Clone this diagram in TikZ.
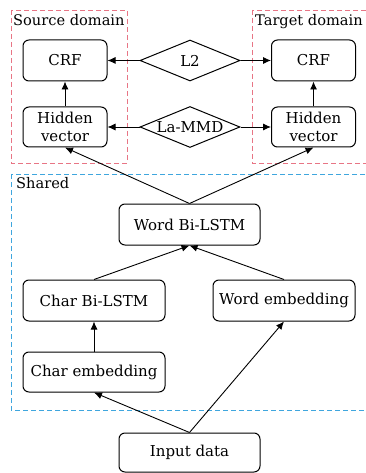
\documentclass[tikz,border=0pt]{standalone}
\usepackage{fontspec}
\setmainfont{DejaVu Serif}
\usetikzlibrary{shapes.geometric,arrows.meta}
\definecolor{dred}{HTML}{E87585}
\definecolor{dblue}{HTML}{3FA6DE}
\begin{document}
\begin{tikzpicture}[x=1pt,y=-1pt,
  box/.style={draw,rounded corners=6pt,line width=1pt,align=center,inner sep=0pt,font=\fontsize{15}{17.5}\selectfont},
  dia/.style={draw,diamond,inner sep=0pt,line width=1pt,minimum width=100pt,minimum height=41pt,aspect=2.44,font=\fontsize{15}{17.5}\selectfont},
  arr/.style={-{Latex[length=8pt,width=7pt]},line width=0.9pt},
  region/.style={dashed,dash pattern=on 5pt off 3pt,line width=0.8pt},
  lbl/.style={anchor=north west,inner sep=0pt,font=\fontsize{14.6}{17}\selectfont}]
\useasboundingbox (0,0) rectangle (365,473);
% regions
\draw[region,dred] (11,10) rectangle (127,163);
\draw[region,dred] (252,10) rectangle (372,163);
\draw[region,dblue] (11,174) rectangle (372,410);
\node[lbl] (srclbl) at (13,14) {Source domain};
\node[lbl] (tgtlbl) at (255,14) {Target domain};
\node[lbl] (shlbl) at (16,177) {Shared};
% nodes
\node[box,minimum width=84pt,minimum height=41pt] (crfL) at (65,60.5) {CRF};
\node[box,minimum width=84pt,minimum height=40pt] (hidL) at (65,127) {Hidden\\vector};
\node[box,minimum width=84pt,minimum height=41pt] (crfR) at (313.5,60.5) {CRF};
\node[box,minimum width=84pt,minimum height=40pt] (hidR) at (313.5,127) {Hidden\\vector};
\node[dia] (l2) at (190,60.5) {L2};
\node[dia] (mmd) at (190,127) {La-MMD};
\node[box,minimum width=141pt,minimum height=41pt] (wbl) at (189.5,224.5) {Word Bi-LSTM};
\node[box,minimum width=142pt,minimum height=41pt] (cbl) at (94,300.5) {Char Bi-LSTM};
\node[box,minimum width=142pt,minimum height=41pt] (wemb) at (284,300.5) {Word embedding};
\node[box,minimum width=142pt,minimum height=40pt] (cemb) at (94,372) {Char embedding};
\node[box,minimum width=141pt,minimum height=39pt] (inp) at (189.5,452.5) {Input data};
% connectors
\draw[arr] (l2.west) -- (crfL.east);
\draw[arr] (l2.east) -- (crfR.west);
\draw[arr] (mmd.west) -- (hidL.east);
\draw[arr] (mmd.east) -- (hidR.west);
\draw[arr] (hidL.north) -- (crfL.south);
\draw[arr] (hidR.north) -- (crfR.south);
\draw[arr] (wbl.north) -- (hidL.south);
\draw[arr] (wbl.north) -- (hidR.south);
\draw[arr] (cbl.north) -- (wbl.south);
\draw[arr] (wemb.north) -- (wbl.south);
\draw[arr] (cemb.north) -- (cbl.south);
\draw[arr] (inp.north) -- (cemb.south);
\draw[arr] (inp.north) -- (wemb.south);
\end{tikzpicture}
\end{document}
